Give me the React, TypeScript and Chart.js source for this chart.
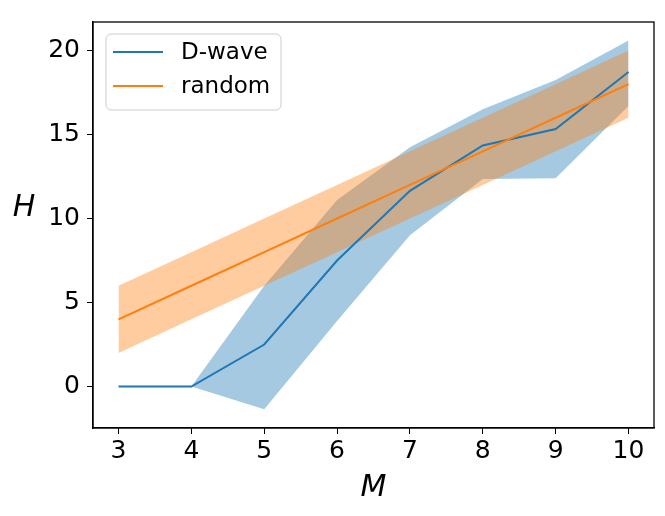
import { useEffect, useRef } from "react";
import { Chart, registerables, ChartConfiguration, Plugin } from "chart.js";

Chart.register(...registerables);

// M values on the x axis
const M_VALUES = [3, 4, 5, 6, 7, 8, 9, 10];
const Y_TICKS = [0, 5, 10, 15, 20];

// D-wave mean and band
const DWAVE_MEAN = [0, 0, 2.5, 7.5, 11.65, 14.35, 15.33, 18.72];
const DWAVE_LOW = [0, 0, -1.35, 3.9, 9.0, 12.35, 12.4, 16.7];
const DWAVE_HIGH = [0, 0, 6.0, 11.1, 14.25, 16.5, 18.25, 20.6];

// random mean and band
const RANDOM_MEAN = [4, 6, 8, 10, 12, 14, 16, 18];
const RANDOM_LOW = [2, 4, 6, 8, 10, 12, 14, 16];
const RANDOM_HIGH = [6, 8, 10, 12, 14, 16, 18, 20];

const BLUE = "#1f77b4";
const ORANGE = "#ff7f0e";
const FONT = '"DejaVu Sans", sans-serif';

const pts = (ys: number[]) => M_VALUES.map((x, i) => ({ x, y: ys[i] }));

const legendItems = [
  { label: "D-wave", color: BLUE },
  { label: "random", color: ORANGE },
];

// frame, axis titles and matplotlib-style legend
const decorations: Plugin<"line"> = {
  id: "decorations",
  afterDraw(chart) {
    const { ctx, chartArea: a } = chart;
    ctx.save();
    ctx.strokeStyle = "#000";
    ctx.lineWidth = 1.3;
    ctx.strokeRect(a.left, a.top, a.right - a.left, a.bottom - a.top);

    ctx.fillStyle = "#000";
    ctx.font = `italic 30px ${FONT}`;
    ctx.textAlign = "center";
    ctx.textBaseline = "middle";
    ctx.fillText("H", a.left - 69, (a.top + a.bottom) / 2 - 17);
    ctx.fillText("M", (a.left + a.right) / 2, a.bottom + 60);

    // legend
    const bx = a.left + 13;
    const by = a.top + 12;
    const bw = 175;
    const bh = 76;
    ctx.beginPath();
    ctx.roundRect(bx, by, bw, bh, 5);
    ctx.fillStyle = "rgba(255,255,255,0.8)";
    ctx.fill();
    ctx.strokeStyle = "#cccccc";
    ctx.lineWidth = 1;
    ctx.stroke();
    ctx.font = `23px ${FONT}`;
    ctx.textAlign = "left";
    legendItems.forEach((it, i) => {
      const y = by + 18 + i * 34;
      ctx.beginPath();
      ctx.moveTo(bx + 7, y);
      ctx.lineTo(bx + 57, y);
      ctx.strokeStyle = it.color;
      ctx.lineWidth = 2;
      ctx.stroke();
      ctx.fillStyle = "#000";
      ctx.fillText(it.label, bx + 75, y + 1);
    });
    ctx.restore();
  },
};

export default function App() {
  const canvasRef = useRef<HTMLCanvasElement>(null);
  const chartRef = useRef<Chart | null>(null);

  useEffect(() => {
    if (!canvasRef.current) return;
    if (chartRef.current) chartRef.current.destroy();

    const band = { borderWidth: 0, pointRadius: 0 };
    const config: ChartConfiguration<"line"> = {
      type: "line",
      data: {
        datasets: [
          { label: "random", data: pts(RANDOM_MEAN), borderColor: ORANGE, borderWidth: 2, pointRadius: 0, fill: false },
          { label: "D-wave", data: pts(DWAVE_MEAN), borderColor: BLUE, borderWidth: 2, pointRadius: 0, fill: false },
          { label: "rlow", data: pts(RANDOM_LOW), ...band, fill: false },
          { label: "rhigh", data: pts(RANDOM_HIGH), ...band, fill: "-1", backgroundColor: "rgba(255,127,14,0.4)" },
          { label: "dlow", data: pts(DWAVE_LOW), ...band, fill: false },
          { label: "dhigh", data: pts(DWAVE_HIGH), ...band, fill: "-1", backgroundColor: "rgba(31,119,180,0.4)" },
        ],
      },
      options: {
        responsive: false,
        animation: false,
        layout: { padding: { top: 11, right: 11, left: 0, bottom: 0 } },
        plugins: { legend: { display: false }, tooltip: { enabled: false } },
        scales: {
          x: {
            type: "linear",
            min: 2.65,
            max: 10.35,
            afterBuildTicks: (s) => {
              s.ticks = M_VALUES.map((v) => ({ value: v }));
            },
            afterFit: (s) => {
              s.height = 88;
            },
            grid: { drawOnChartArea: false, drawTicks: true, tickLength: 6, color: "#000", lineWidth: 1 },
            border: { display: true, color: "#000", width: 1.3 },
            ticks: { font: { family: FONT, size: 25 }, color: "#000", padding: 2, maxRotation: 0, autoSkip: false },
          },
          y: {
            type: "linear",
            min: -2.47,
            max: 21.7,
            afterBuildTicks: (s) => {
              s.ticks = Y_TICKS.map((v) => ({ value: v }));
            },
            afterFit: (s) => {
              s.width = 93;
            },
            grid: { drawOnChartArea: false, drawTicks: true, tickLength: 6, color: "#000", lineWidth: 1 },
            border: { display: true, color: "#000", width: 1.3 },
            ticks: { font: { family: FONT, size: 25 }, color: "#000", padding: 7 },
          },
        },
      },
      plugins: [decorations],
    };

    chartRef.current = new Chart(canvasRef.current, config);
    return () => {
      if (chartRef.current) chartRef.current.destroy();
    };
  }, []);

  return (
    <div style={{ position: "fixed", left: 0, top: 0, width: 665, height: 516, background: "#fff" }}>
      <canvas ref={canvasRef} width={665} height={516} style={{ display: "block" }} />
    </div>
  );
}
